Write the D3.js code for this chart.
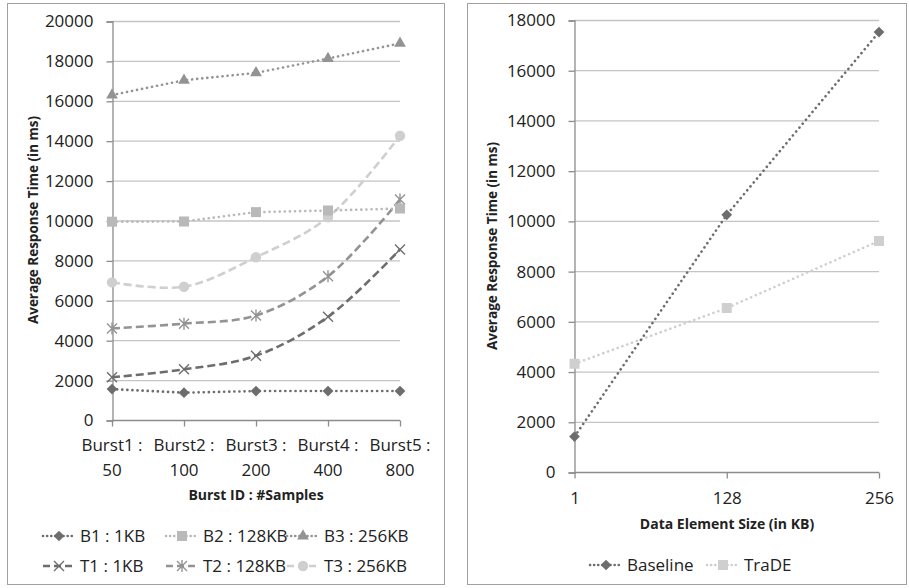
<!DOCTYPE html>
<html>
<head>
<meta charset="utf-8">
<script src="https://cdn.jsdelivr.net/npm/d3@7/dist/d3.min.js"></script>
<style>
  html, body { margin: 0; padding: 0; background: #fff; }
  svg { display: block; font-family: "Open Sans", "DejaVu Sans", sans-serif; }
</style>
</head>
<body>
<svg id="chart" width="909" height="588"></svg>
<script>
// ---- Left chart: response time per burst ----
const bursts = ["Burst1 : 50", "Burst2 : 100", "Burst3 : 200", "Burst4 : 400", "Burst5 : 800"];
const burstTicks = [0, 2000, 4000, 6000, 8000, 10000, 12000, 14000, 16000, 18000, 20000];
const seriesNames = ["B1 : 1KB", "B2 : 128KB", "B3 : 256KB", "T1 : 1KB", "T2 : 128KB", "T3 : 256KB"];
const b1 = [1550, 1370, 1450, 1450, 1450];
const b2 = [9940, 9950, 10420, 10500, 10600];
const b3 = [16290, 17030, 17400, 18120, 18880];
const t1 = [2140, 2540, 3220, 5170, 8550];
const t2 = [4590, 4830, 5240, 7200, 11050];
const t3 = [6900, 6680, 8160, 10160, 14250];

// ---- Right chart: response time per data element size ----
const sizes = ["1", "128", "256"];
const sizeTicks = [0, 2000, 4000, 6000, 8000, 10000, 12000, 14000, 16000, 18000];
const baseline = [1430, 10260, 17540];
const trade = [4330, 6550, 9220];

const C_DARK = "#6d6d6d", C_MID = "#939393", C_LIGHT = "#b9b9b9", C_PALE = "#cfcfcf";
const GRID = "#c4c4c4", AXIS = "#8c8c8c";
const DOT = "0.1 5", DASH = "8 4";
const fmt = d3.format("d");

const svg = d3.select("#chart");

function marker(g, type, x, y, color) {
  if (type === "diamond") {
    g.append("rect").attr("x", -3.8).attr("y", -3.8).attr("width", 7.6).attr("height", 7.6)
      .attr("transform", `translate(${x},${y}) rotate(45)`).attr("fill", color);
  } else if (type === "square") {
    g.append("rect").attr("x", x - 5).attr("y", y - 5).attr("width", 10).attr("height", 10).attr("fill", color);
  } else if (type === "triangle") {
    g.append("path").attr("d", d3.symbol(d3.symbolTriangle, 60)())
      .attr("transform", `translate(${x},${y})`).attr("fill", color);
  } else if (type === "circle") {
    g.append("circle").attr("cx", x).attr("cy", y).attr("r", 5.2).attr("fill", color);
  } else if (type === "x") {
    g.append("path").attr("d", `M${x-5},${y-5}L${x+5},${y+5}M${x-5},${y+5}L${x+5},${y-5}`)
      .attr("stroke", color).attr("stroke-width", 1.4).attr("fill", "none");
  } else if (type === "star") {
    g.append("path").attr("d", `M${x-5},${y-5}L${x+5},${y+5}M${x-5},${y+5}L${x+5},${y-5}M${x},${y-6}L${x},${y+6}`)
      .attr("stroke", color).attr("stroke-width", 1.4).attr("fill", "none");
  }
}

function drawSeries(g, xs, ys, vals, style) {
  const line = d3.line().x((d, i) => xs(i)).y(d => ys(d));
  if (style.smooth) line.curve(d3.curveCatmullRom.alpha(0.5));
  g.append("path").attr("d", line(vals)).attr("fill", "none")
    .attr("stroke", style.color).attr("stroke-width", 2.6)
    .attr("stroke-dasharray", style.dash).attr("stroke-linecap", style.dash === DOT ? "round" : "butt");
  vals.forEach((v, i) => marker(g, style.marker, xs(i), ys(v), style.color));
}

function legendItem(g, x, y, style, label) {
  g.append("line").attr("x1", x).attr("x2", x + 32).attr("y1", y).attr("y2", y)
    .attr("stroke", style.color).attr("stroke-width", 2.6)
    .attr("stroke-dasharray", style.dash === DOT ? "0.1 4" : "7 4")
    .attr("stroke-linecap", style.dash === DOT ? "round" : "butt");
  marker(g, style.marker, x + 16, y, style.color);
  g.append("text").attr("x", x + 37).attr("y", y).attr("dy", "0.35em")
    .attr("font-size", 17).attr("fill", "#222").text(label);
}

function styleAxis(ax) {
  ax.select(".domain").attr("stroke", AXIS).attr("stroke-width", 1.3);
  ax.selectAll(".tick line").attr("stroke", AXIS).attr("stroke-width", 1.3);
  ax.selectAll("text").attr("font-size", 17).attr("fill", "#222").attr("font-family", "Open Sans");
}

// ---------- Left panel ----------
{
  const g = svg.append("g");
  g.append("rect").attr("x", 7.5).attr("y", 3.5).attr("width", 437).attr("height", 581)
    .attr("fill", "#fff").attr("stroke", "#a0a0a0");

  const y = d3.scaleLinear().domain([0, 20000]).range([420, 21]);
  const xi = d3.scalePoint().domain(d3.range(bursts.length)).range([112, 400]);
  const xs = i => xi(i);

  g.selectAll(".grid").data(burstTicks.filter(d => d > 0)).join("line")
    .attr("x1", 112).attr("x2", 400).attr("y1", d => y(d) + 0.5).attr("y2", d => y(d) + 0.5)
    .attr("stroke", GRID).attr("stroke-width", 1.3);

  const yAxis = g.append("g").attr("transform", "translate(112.5,0.5)")
    .call(d3.axisLeft(y).tickValues(burstTicks).tickFormat(fmt).tickSize(6).tickPadding(13));
  styleAxis(yAxis);

  const xAxis = g.append("g").attr("transform", "translate(0,420.5)")
    .call(d3.axisBottom(xi).tickSize(6).tickFormat(""));
  styleAxis(xAxis);
  xAxis.select(".domain").attr("d", "M112,0H400");
  bursts.forEach((b, i) => {
    const parts = b.split(" : ");
    const t = g.append("text").attr("text-anchor", "middle").attr("font-size", 17).attr("fill", "#222");
    t.append("tspan").attr("x", xs(i)).attr("y", 451).text(parts[0] + " :");
    t.append("tspan").attr("x", xs(i)).attr("y", 476).text(parts[1]);
  });

  g.append("text").attr("x", 256).attr("y", 500).attr("text-anchor", "middle")
    .attr("font-size", 14).attr("font-weight", "bold").attr("fill", "#222").text("Burst ID : #Samples");
  g.append("text").attr("transform", "translate(38,220) rotate(-90)").attr("text-anchor", "middle")
    .attr("font-size", 13.5).attr("font-weight", "bold").attr("fill", "#222").text("Average Response Time (in ms)");

  const styles = [
    { color: C_DARK, dash: DOT, marker: "diamond" },
    { color: C_LIGHT, dash: DOT, marker: "square" },
    { color: C_MID, dash: DOT, marker: "triangle" },
    { color: C_DARK, dash: DASH, marker: "x", smooth: true },
    { color: C_MID, dash: DASH, marker: "star", smooth: true },
    { color: C_PALE, dash: DASH, marker: "circle", smooth: true }
  ];
  const data = [b1, b2, b3, t1, t2, t3];
  // draw back-to-front so markers stack sensibly
  [5, 4, 3, 2, 1, 0].forEach(k => drawSeries(g.append("g"), xs, y, data[k], styles[k]));

  const lx = [43, 166, 287], ly = [536, 566];
  seriesNames.forEach((n, k) => legendItem(g, lx[k % 3], ly[Math.floor(k / 3)], styles[k], n));
}

// ---------- Right panel ----------
{
  const g = svg.append("g");
  g.append("rect").attr("x", 467.5).attr("y", 3.5).attr("width", 439).attr("height", 581)
    .attr("fill", "#fff").attr("stroke", "#a0a0a0");

  const y = d3.scaleLinear().domain([0, 18000]).range([472.5, 20.5]);
  const xi = d3.scalePoint().domain(sizes).range([574.5, 879]);
  const xs = i => xi(sizes[i]);

  g.selectAll(".grid").data(sizeTicks.filter(d => d > 0)).join("line")
    .attr("x1", 574).attr("x2", 879).attr("y1", d => y(d)).attr("y2", d => y(d))
    .attr("stroke", GRID).attr("stroke-width", 1.3);

  const yAxis = g.append("g").attr("transform", "translate(574.5,0)")
    .call(d3.axisLeft(y).tickValues(sizeTicks).tickFormat(fmt).tickSize(6).tickPadding(13));
  styleAxis(yAxis);

  const xAxis = g.append("g").attr("transform", "translate(0,472.5)")
    .call(d3.axisBottom(xi).tickSize(6).tickPadding(13));
  styleAxis(xAxis);
  xAxis.select(".domain").attr("d", "M574.5,0H879");

  g.append("text").attr("x", 727).attr("y", 529).attr("text-anchor", "middle")
    .attr("font-size", 14).attr("font-weight", "bold").attr("fill", "#222").text("Data Element Size (in KB)");
  g.append("text").attr("transform", "translate(497,246) rotate(-90)").attr("text-anchor", "middle")
    .attr("font-size", 13.5).attr("font-weight", "bold").attr("fill", "#222").text("Average Response Time (in ms)");

  const sB = { color: C_DARK, dash: DOT, marker: "diamond" };
  const sT = { color: C_PALE, dash: DOT, marker: "square" };
  drawSeries(g.append("g"), xs, y, trade, sT);
  drawSeries(g.append("g"), xs, y, baseline, sB);

  legendItem(g, 590, 565, sB, "Baseline");
  legendItem(g, 707, 565, sT, "TraDE");
}
</script>
</body>
</html>
